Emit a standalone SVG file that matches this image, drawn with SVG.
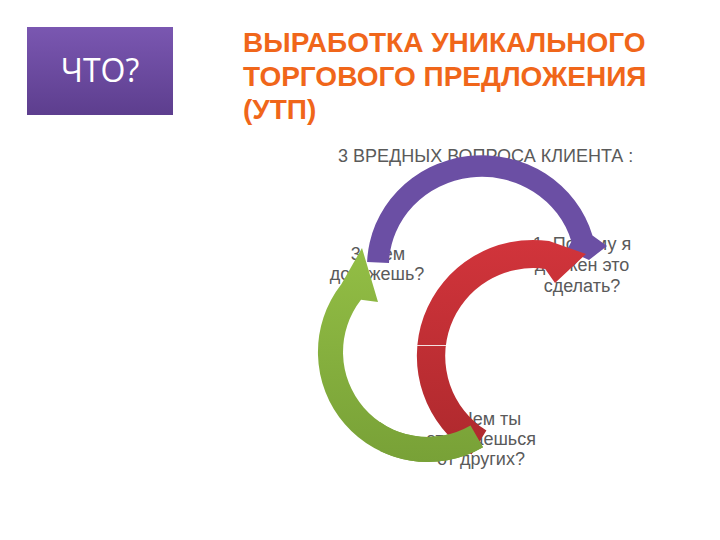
<svg xmlns="http://www.w3.org/2000/svg" xmlns:xlink="http://www.w3.org/1999/xlink" width="720" height="540" viewBox="0 0 720 540">
<style>
.title{font-family:"Liberation Sans",Arial,sans-serif;font-weight:bold;font-size:28px;fill:#F0661A}
.sub{font-family:"Liberation Sans",Arial,sans-serif;font-size:18px;fill:#5A5A5A}
.lbl{font-family:"Liberation Sans",Arial,sans-serif;font-size:18px;fill:#5A5A5A;text-anchor:middle}
.what{font-family:"Open Sans","DejaVu Sans",sans-serif;font-size:32px;fill:#FFFFFF;text-anchor:middle}
</style>
<defs>
<linearGradient id="gBox" x1="0" y1="0" x2="0" y2="1">
<stop offset="0" stop-color="#7A57B1"/>
<stop offset="1" stop-color="#5D3E8E"/>
</linearGradient>
<linearGradient id="gRed" x1="0" y1="0" x2="0" y2="1">
<stop offset="0" stop-color="#D1343B"/>
<stop offset="1" stop-color="#AE292D"/>
</linearGradient>
<linearGradient id="gGreen" x1="0" y1="0" x2="0" y2="1">
<stop offset="0" stop-color="#93BE45"/>
<stop offset="1" stop-color="#78A137"/>
</linearGradient>
<clipPath id="clipLow"><rect x="380" y="400" width="200" height="100"/></clipPath>
<path id="greenShape" d="M483,447.3 A110,110 0 0 1 341.3,284.3 L362,248 L378,302 L361,299.7 A85,85 0 0 0 470.5,425.6 Z"/>
</defs>
<rect width="720" height="540" fill="#FFFFFF"/>
<g id="what">
<rect x="27" y="27" width="146" height="88" fill="url(#gBox)"/>
<text class="what" x="100" y="82">ЧТО?</text>
</g>
<g id="title">
<text class="title" x="243" y="52">ВЫРАБОТКА УНИКАЛЬНОГО</text>
<text class="title" x="243" y="86">ТОРГОВОГО ПРЕДЛОЖЕНИЯ</text>
<text class="title" x="243" y="119">(УТП)</text>
</g>
<g id="subtitle">
<text class="sub" x="338" y="162">3 ВРЕДНЫХ ВОПРОСА КЛИЕНТА :</text>
</g>
<g id="q1">
<text class="lbl" x="582" y="250">1. Почему я</text>
<text class="lbl" x="582" y="271">должен это</text>
<text class="lbl" x="582" y="292">сделать?</text>
</g>
<g id="q2">
<text class="lbl" x="481" y="425">2. Чем ты</text>
<text class="lbl" x="481" y="445">отличаешься</text>
<text class="lbl" x="481" y="465">от других?</text>
</g>
<g id="q3">
<text class="lbl" x="378" y="260">3. Чем</text>
<text class="lbl" x="377" y="280">докажешь?</text>
</g>
<g id="connectors">
<use id="greenArrow" xlink:href="#greenShape" fill="url(#gGreen)"/>
<path id="purpleArrow" d="M367.1,262.1 A115,111 0 0 1 592.5,235.4 L607,246 L589,260 L567,250 L571.4,241.5 A93,89 0 0 0 389,262.9 Z" fill="#6B4FA4"/>
<path id="redArrow" d="M471.5,454.4 A116,116 0 0 1 549.1,241.1 L586,254 L555,283 L545.2,268.9 A88,88 0 0 0 486.4,430.6 Z" fill="url(#gRed)"/>
<line x1="417" y1="345.5" x2="446" y2="345.5" stroke="#F4E0E0" stroke-width="1"/>
<use xlink:href="#greenShape" fill="url(#gGreen)" clip-path="url(#clipLow)"/>
</g>
</svg>
